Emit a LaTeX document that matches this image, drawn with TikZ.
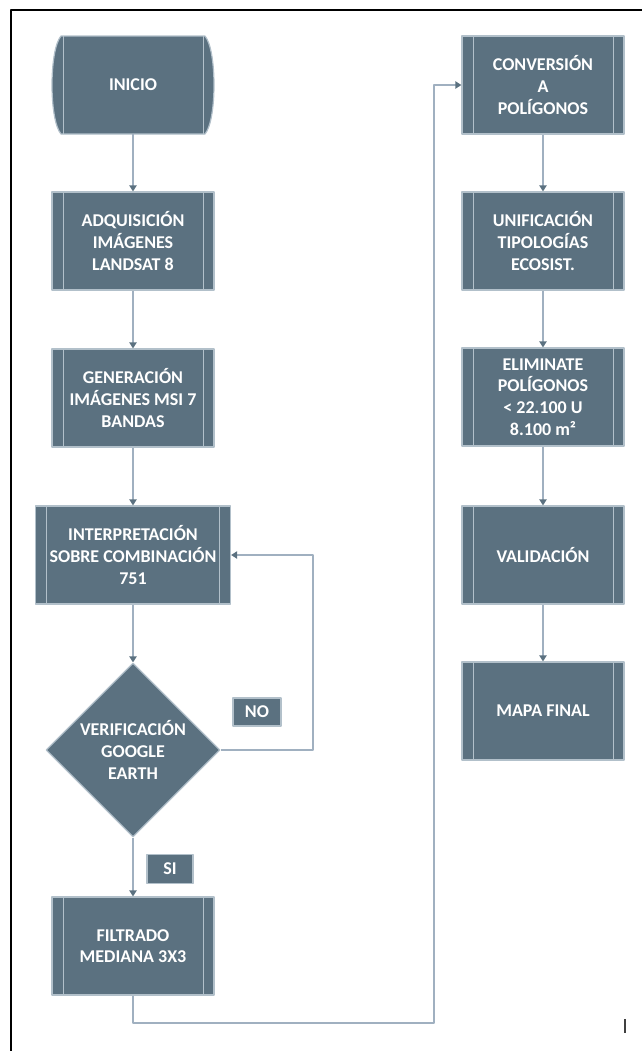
\documentclass[tikz,border=0pt]{standalone}
\usepackage{fontspec}
\setmainfont{Carlito}
\usetikzlibrary{shapes.geometric,arrows.meta}
\definecolor{cajafondo}{RGB}{91,113,128}
\definecolor{cajaborde}{RGB}{178,192,202}
\definecolor{flecha}{RGB}{160,176,192}
\tikzset{
	proceso/.style={rectangle, fill=cajafondo, draw=cajaborde, line width=0.6pt, minimum width=81pt, minimum height=49pt, inner sep=0pt, text=white, align=center,
		path picture={\draw[cajaborde, line width=0.5pt] ([xshift=5.5pt]path picture bounding box.north west) -- ([xshift=5.5pt]path picture bounding box.south west) ([xshift=-5.5pt]path picture bounding box.north east) -- ([xshift=-5.5pt]path picture bounding box.south east);}},
	decision/.style={diamond, fill=cajafondo, draw=cajaborde, line width=0.6pt, minimum width=87pt, minimum height=87pt, inner sep=0pt, text=white, align=center},
	etiqueta/.style={rectangle, fill=cajafondo, draw=cajaborde, line width=0.6pt, minimum width=24pt, minimum height=14pt, inner sep=0pt, text=white},
	conector/.style={draw=flecha, line width=0.75pt, -{Triangle[width=3.6pt,length=3pt,fill=cajafondo,color=cajafondo]}}
}
\begin{document}
\begin{tikzpicture}[x=0.5pt,y=-0.5pt,font=\fontsize{9}{10.8}\selectfont\bfseries, line join=round]
	\useasboundingbox (0,0) rectangle (642,1051);
	%\draw[thin,color=gray!50] (0,0) grid[step=50] (642,1051);
	\draw[line width=1.1pt] (11,1051)--(11,10)--(642,10);
	% terminador de inicio
	\filldraw[fill=cajafondo, draw=cajaborde, line width=0.6pt] (61,36)--(205,36) .. controls (217,50) and (217,120) .. (205,134)--(61,134) .. controls (49,120) and (49,50) .. (61,36) -- cycle;
	\draw[cajaborde, line width=0.5pt] (63,36)--(63,134) (203,36)--(203,134);
	\node[minimum width=81pt, minimum height=49pt, inner sep=0pt, text=white] (inicio) at (133,85) {INICIO};
	% columna izquierda
	\node[proceso] (adq) at (133,241) {ADQUISICIÓN\\IMÁGENES\\LANDSAT 8};
	\node[proceso] (gen) at (133,398) {GENERACIÓN\\IMÁGENES MSI 7\\BANDAS};
	\node[proceso, minimum width=97.5pt] (interp) at (133,555) {INTERPRETACIÓN\\SOBRE COMBINACIÓN\\751};
	\node[decision] (verif) at (133,750) {VERIFICACIÓN\\GOOGLE\\EARTH};
	\node[proceso] (filt) at (133,946) {FILTRADO\\MEDIANA 3X3};
	\node[etiqueta] (no) at (257,712) {NO};
	\node[etiqueta, minimum width=23pt, minimum height=14.5pt] (si) at (170,869) {SI};
	% columna derecha
	\node[proceso] (conv) at (543,85) {CONVERSIÓN\\A\\POLÍGONOS};
	\node[proceso] (unif) at (543,241) {UNIFICACIÓN\\TIPOLOGÍAS\\ECOSIST.};
	\node[proceso] (elim) at (543,397) {ELIMINATE\\POLÍGONOS\\< 22.100 U\\8.100 m²};
	\node[proceso] (valid) at (543,555) {VALIDACIÓN};
	\node[proceso] (mapa) at (543,711) {MAPA FINAL};
	\coordinate (lazo) at (313,750);
	\coordinate (retorno) at (434,1023);
	\draw[conector] (inicio)--(adq);
	\draw[conector] (adq)--(gen);
	\draw[conector] (gen)--(interp);
	\draw[conector] (interp)--(verif);
	\draw[conector] (verif.east)--(lazo) |- (interp.east);
	\draw[conector] (verif)--(filt);
	\draw[conector] (filt.south) |- (retorno) |- (conv.west);
	\draw[conector] (conv)--(unif);
	\draw[conector] (unif)--(elim);
	\draw[conector] (elim)--(valid);
	\draw[conector] (valid)--(mapa);
	\draw[line width=0.6pt, black!75] (625,1019)--(625,1033);
\end{tikzpicture}
\end{document}
